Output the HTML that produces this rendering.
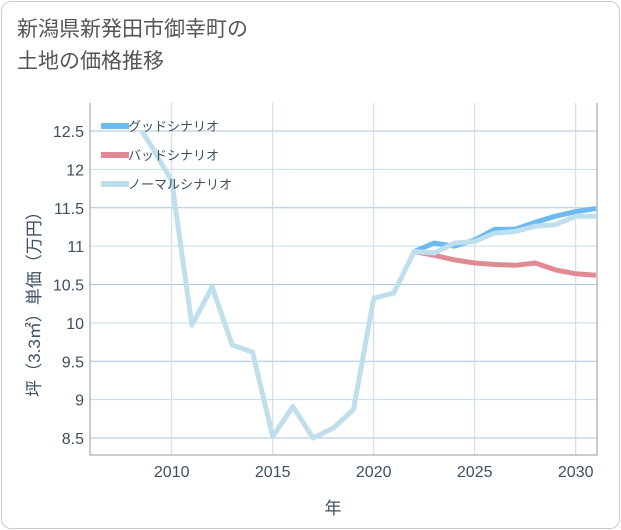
<!DOCTYPE html>
<html><head><meta charset="utf-8"><style>
body{margin:0;background:#fff;font-family:"Liberation Sans","Noto Sans CJK JP",sans-serif;}
#card{position:absolute;left:1px;top:1px;width:617px;height:526px;border:1px solid #ccc;border-radius:10px;background:#fff;}
#title{position:absolute;left:17px;top:14px;font-size:21px;line-height:32px;color:#555;}
</style></head><body>
<div id="card"></div>
<div id="title">新潟県新発田市御幸町の<br>土地の価格推移</div>
<svg id="chart" width="621" height="530" style="position:absolute;left:0;top:0"></svg>
<script>
const years=[2008,2009,2010,2011,2012,2013,2014,2015,2016,2017,2018,2019,2020,2021,2022,2023,2024,2025,2026,2027,2028,2029,2030,2031];
const normal=[12.72,12.3,11.85,9.97,10.47,9.71,9.62,8.52,8.91,8.5,8.63,8.87,10.32,10.39,10.93,10.91,11.04,11.06,11.17,11.19,11.26,11.28,11.39,11.39];
const goodYears=[2022,2023,2024,2025,2026,2027,2028,2029,2030,2031];
const good=[10.93,11.04,11.0,11.08,11.22,11.22,11.31,11.39,11.45,11.49];
const bad=[10.93,10.88,10.82,10.78,10.76,10.75,10.78,10.69,10.64,10.62];
const yTicks=[8.5,9,9.5,10,10.5,11,11.5,12,12.5];
const yTickLabels=["8.5","9","9.5","10","10.5","11","11.5","12","12.5"];
const xTicks=[2010,2015,2020,2025,2030];
const legendLabels=["グッドシナリオ","バッドシナリオ","ノーマルシナリオ"];
const colors=["#6bbbf2","#e08a94","#bfdfec"];
const txt='#3d4f63';
const L=90,R=597,T=103,B=455;
const xs=y=>171.7+(y-2010)*20.2;
const ys=v=>131+(12.5-v)*76.75;
const svg=document.getElementById('chart');
const NS='http://www.w3.org/2000/svg';
function mk(t,a){const e=document.createElementNS(NS,t);for(const k in a)e.setAttribute(k,a[k]);svg.appendChild(e);return e;}
const defs=mk('defs',{});const cp=document.createElementNS(NS,'clipPath');cp.setAttribute('id','clip');defs.appendChild(cp);
const cr=document.createElementNS(NS,'rect');cr.setAttribute('x',L);cr.setAttribute('y',131);cr.setAttribute('width',R-L);cr.setAttribute('height',B-131);cp.appendChild(cr);
yTicks.forEach((v,i)=>{
 const g=mk('line',{x1:L,x2:R,y1:ys(v),y2:ys(v),stroke:i%2?'#c2dcea':'#aac6da','stroke-width':1});
 
 
 const t=mk('text',{x:84,y:ys(v)+6,'text-anchor':'end','font-size':16,fill:txt});t.textContent=yTickLabels[i];
 
 
});
xTicks.forEach(y=>{
 const g=mk('line',{x1:xs(y),x2:xs(y),y1:T,y2:B,stroke:'#c2dcea','stroke-width':1});
 
 
 const t=mk('text',{x:xs(y),y:477,'text-anchor':'middle','font-size':16,fill:txt});t.textContent=String(y);
 
 
});
const ax=mk('path',{d:`M${L},${T}V${B}H${R}V${T}`,fill:'none',stroke:'#999','stroke-width':1});


function line(xv,vals,c,name){
 const d=vals.map((v,i)=>(i?'L':'M')+xs(xv[i]).toFixed(1)+','+ys(v).toFixed(1)).join('');
 const p=mk('path',{d,fill:'none',stroke:c,'stroke-width':5,'stroke-linejoin':'round','clip-path':'url(#clip)'});
 
 
}
line(goodYears,good,colors[0],'good-scenario-line');
line(goodYears,bad,colors[1],'bad-scenario-line');
line(years,normal,colors[2],'normal-scenario-line');
legendLabels.forEach((s,i)=>{
 const y=126+i*29;
 const l=mk('line',{x1:101,x2:129,y1:y,y2:y,stroke:colors[i],'stroke-width':6});
 
 
 const t=mk('text',{x:128,y:y+5,'font-size':13,fill:txt});t.textContent=s;
 
 
});
const yl=mk('text',{transform:'translate(40,300) rotate(-90)','text-anchor':'middle','font-size':17,fill:txt});yl.textContent='坪（3.3㎡）単価（万円）';


const xl=mk('text',{x:333,y:514,'text-anchor':'middle','font-size':17,fill:txt});xl.textContent='年';


</script>
</body></html>
